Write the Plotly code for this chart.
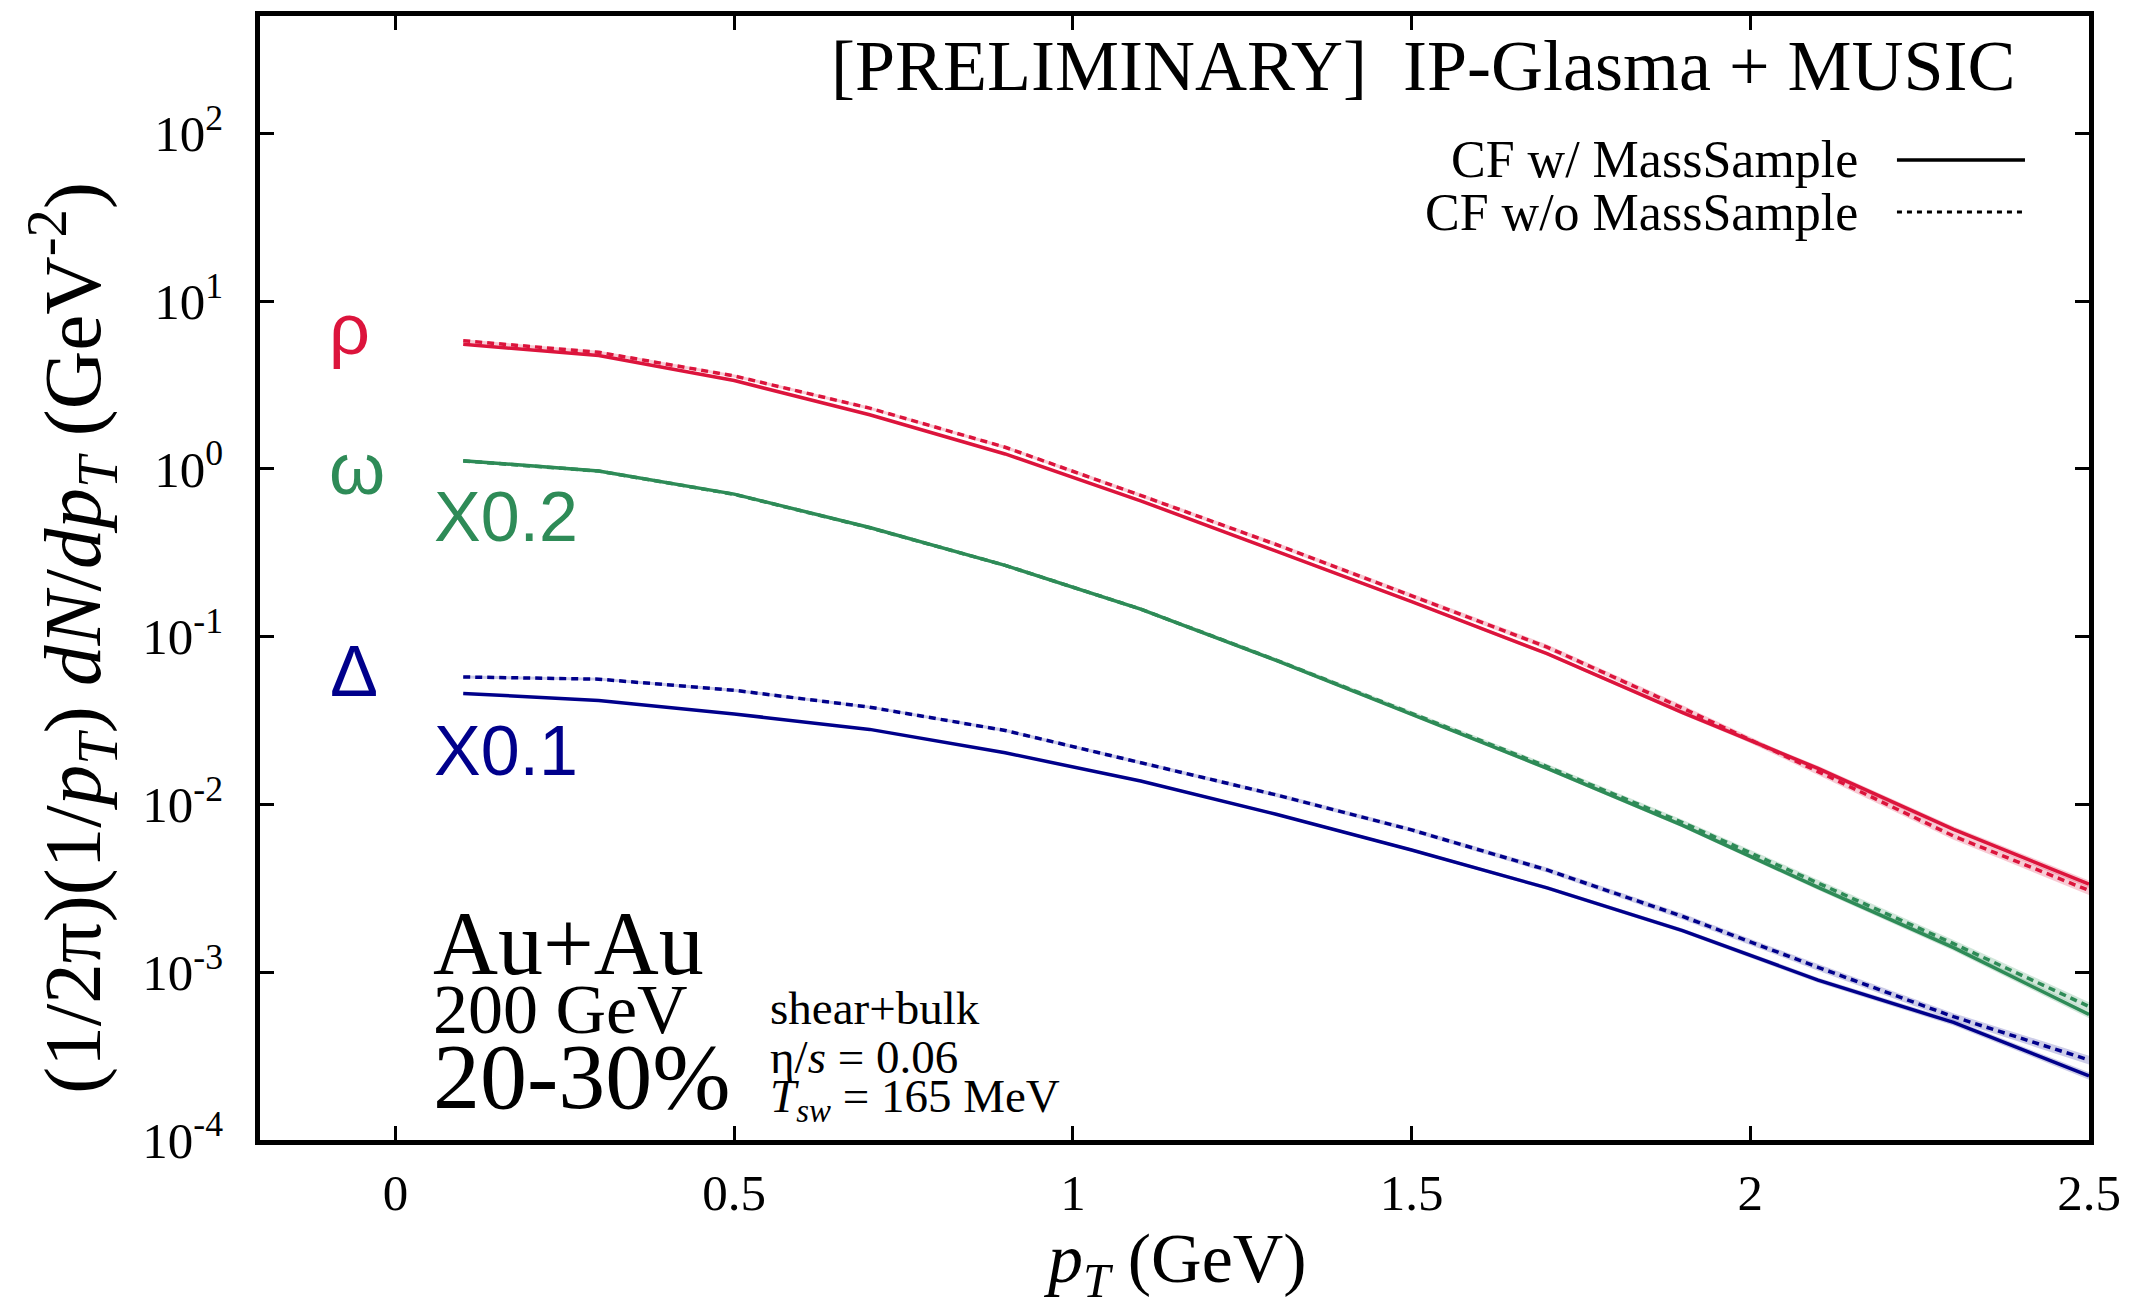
import plotly.graph_objects as go

# ---------------- data ----------------
pt = [0.1, 0.3, 0.5, 0.7, 0.9, 1.1, 1.3, 1.5, 1.7, 1.9, 2.1, 2.3, 2.5]

# rho (x1)
rho_w = [5.52, 4.74, 3.36, 2.10, 1.227, 0.645, 0.323, 0.1618, 0.0791, 0.0353, 0.0164, 0.0071, 0.00335]
rho_wo = [5.80, 4.95, 3.58, 2.30, 1.345, 0.695, 0.354, 0.175, 0.0867, 0.0375, 0.0157, 0.00648, 0.00307]
# omega (x0.2)
omega_w = [1.119, 0.972, 0.707, 0.447, 0.266, 0.1458, 0.0722, 0.0346, 0.0164, 0.0075, 0.0032, 0.0014, 0.00056]
omega_wo = [1.115, 0.970, 0.705, 0.446, 0.266, 0.146, 0.0725, 0.0350, 0.0168, 0.0078, 0.0034, 0.00148, 0.000625]
# Delta (x0.1)
delta_w = [0.0459, 0.0416, 0.0346, 0.0280, 0.0203, 0.0138, 0.00874, 0.00535, 0.00318, 0.00177, 0.000897, 0.000502, 0.000241]
delta_wo = [0.0575, 0.0558, 0.0479, 0.0380, 0.0276, 0.0177, 0.0114, 0.00705, 0.00407, 0.00215, 0.00107, 0.000543, 0.000300]

# relative half-widths of the statistical bands
band_w = [0.01, 0.01, 0.01, 0.01, 0.012, 0.015, 0.018, 0.02, 0.025, 0.03, 0.035, 0.04, 0.05]
band_wo = [0.02, 0.02, 0.02, 0.02, 0.022, 0.025, 0.028, 0.03, 0.035, 0.04, 0.045, 0.05, 0.06]

x_ticks = [0, 0.5, 1, 1.5, 2, 2.5]
x_ticklabels = ["0", "0.5", "1", "1.5", "2", "2.5"]
y_ticks = [1e-4, 1e-3, 1e-2, 1e-1, 1e0, 1e1, 1e2]
y_ticklabels = ["10<sup>-4</sup>", "10<sup>-3</sup>", "10<sup>-2</sup>", "10<sup>-1</sup>",
                "10<sup>0</sup>", "10<sup>1</sup>", "10<sup>2</sup>"]

RED = "#DC143C"
GREEN = "#2E8B57"
BLUE = "#00008B"
RED_BAND = "rgba(220,20,60,0.22)"
GREEN_BAND = "rgba(46,139,87,0.22)"
BLUE_BAND = "rgba(0,0,139,0.20)"

SERIF = "Liberation Serif"
SANS = "Liberation Sans"

fig = go.Figure()

series = [
    (rho_w, band_w, RED, RED_BAND, "solid"),
    (rho_wo, band_wo, RED, RED_BAND, "7px,5px"),
    (omega_w, band_w, GREEN, GREEN_BAND, "solid"),
    (omega_wo, band_wo, GREEN, GREEN_BAND, "7px,5px"),
    (delta_w, band_w, BLUE, BLUE_BAND, "solid"),
    (delta_wo, band_wo, BLUE, BLUE_BAND, "7px,5px"),
]

# bands first
for vals, band, col, bcol, dash in series:
    up = [v * (1 + b) for v, b in zip(vals, band)]
    lo = [v * (1 - b) for v, b in zip(vals, band)]
    fig.add_trace(go.Scatter(x=pt, y=up, mode="lines", line=dict(width=0, color=bcol),
                             showlegend=False, hoverinfo="skip"))
    fig.add_trace(go.Scatter(x=pt, y=lo, mode="lines", line=dict(width=0, color=bcol),
                             fill="tonexty", fillcolor=bcol, showlegend=False, hoverinfo="skip"))

for vals, band, col, bcol, dash in series:
    fig.add_trace(go.Scatter(x=pt, y=vals, mode="lines",
                             line=dict(color=col, width=3.5, dash=dash),
                             showlegend=False))

axis_common = dict(
    showline=True, linecolor="black", linewidth=4.5, mirror="allticks",
    ticks="inside", ticklen=14, tickwidth=2.5, tickcolor="black",
    showgrid=False, zeroline=False,
    tickfont=dict(family=SERIF, size=51, color="black"),
)

fig.update_xaxes(range=[-0.2, 2.5], tickvals=x_ticks, ticktext=x_ticklabels,
                 ticklabelstandoff=4, **axis_common)
fig.update_yaxes(type="log", range=[-4, 2.69897], tickvals=y_ticks, ticktext=y_ticklabels,
                 ticklabelstandoff=22, **axis_common)

ann = []
def add(text, x, y, size, color="black", family=SERIF, xanchor="left", yanchor="middle", angle=0):
    ann.append(dict(text=text, x=x, y=y, xref="paper", yref="paper", showarrow=False,
                    xanchor=xanchor, yanchor=yanchor, textangle=angle,
                    font=dict(family=family, size=size, color=color)))

# title
add("[PRELIMINARY]\u00a0\u00a0IP-Glasma + MUSIC", 0.9612, 0.9555, 72, xanchor="right")
# legend texts
add("CF w/ MassSample", 0.8748, 0.8719, 52, xanchor="right")
add("CF w/o MassSample", 0.8748, 0.8256, 52, xanchor="right")
# particle labels
add("ρ", 0.0492, 0.7216, 72, RED, SANS, xanchor="center")
add("ω", 0.0530, 0.5970, 72, GREEN, SANS, xanchor="center")
add("X0.2", 0.094, 0.5543, 70, GREEN, SANS)
add("Δ", 0.0514, 0.4173, 72, BLUE, SANS, xanchor="center")
add("X0.1", 0.094, 0.3461, 70, BLUE, SANS)
# system
add("Au+Au", 0.0935, 0.1744, 90)
add("200 GeV", 0.0935, 0.1157, 70)
add("20-30%", 0.0935, 0.0569, 94)
add("shear+bulk", 0.2777, 0.1174, 47)
add("η/<i>s</i> = 0.06", 0.2777, 0.0738, 47)
add("<i>T<sub>sw</sub></i> = 165 MeV", 0.2777, 0.0356, 47)
# axis titles
add("(1/2π)(1/<i>p<sub>T</sub></i>) <i>dN</i>/<i>dp<sub>T</sub></i> (GeV<sup>-2</sup>)",
    -0.1030, 0.4466, 81, xanchor="center", angle=-90)
add("<i>p<sub>T</sub></i> (GeV)", 0.5, -0.1103, 70, xanchor="center")

shapes = [
    dict(type="line", xref="paper", yref="paper", x0=0.895, x1=0.965, y0=0.8719, y1=0.8719,
         line=dict(color="black", width=3.5)),
    dict(type="line", xref="paper", yref="paper", x0=0.895, x1=0.965, y0=0.8256, y1=0.8256,
         line=dict(color="black", width=3.0, dash="5px,5px")),
]

fig.update_layout(
    width=2148, height=1312,
    margin=dict(l=260, r=59, t=16, b=172),
    paper_bgcolor="white", plot_bgcolor="white",
    annotations=ann, shapes=shapes, showlegend=False,
    font=dict(family=SERIF, color="black"),
)

fig.write_html("out.html")
